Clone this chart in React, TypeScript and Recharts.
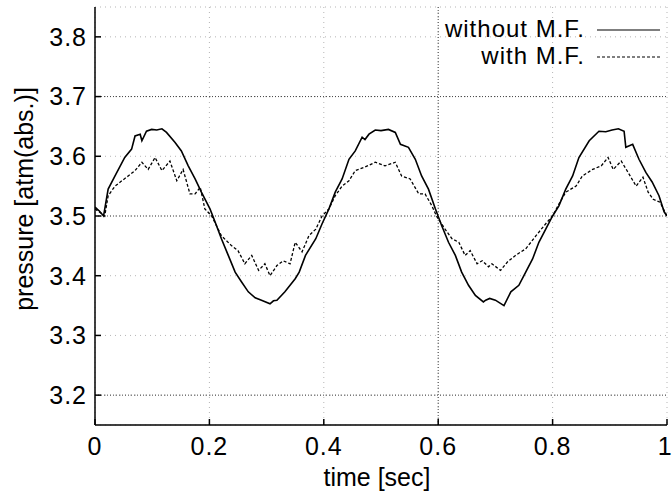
import {
  CartesianGrid,
  Legend,
  Line,
  LineChart,
  ReferenceLine,
  XAxis,
  YAxis,
} from "recharts";

// without M.F. (solid)
const solidTime = [
  0, 0.008, 0.015, 0.023, 0.035, 0.052, 0.064, 0.07, 0.079, 0.082, 0.09, 0.099,
  0.108, 0.117, 0.125, 0.14, 0.151, 0.163, 0.175, 0.186, 0.201, 0.21, 0.221,
  0.233, 0.245, 0.256, 0.268, 0.28, 0.291, 0.306, 0.312, 0.318, 0.332, 0.35,
  0.357, 0.368, 0.386, 0.397, 0.409, 0.42, 0.432, 0.444, 0.455, 0.467, 0.472,
  0.479, 0.49, 0.5, 0.513, 0.525, 0.534, 0.548, 0.56, 0.571, 0.583, 0.595,
  0.606, 0.618, 0.63, 0.641, 0.653, 0.665, 0.679, 0.683, 0.69, 0.7, 0.715,
  0.727, 0.741, 0.753, 0.765, 0.776, 0.788, 0.8, 0.811, 0.823, 0.835, 0.846,
  0.864, 0.881, 0.893, 0.904, 0.915, 0.925, 0.928, 0.94, 0.951, 0.963, 0.974,
  0.986, 0.995, 1,
];
const solidPressure = [
  3.515, 3.508, 3.5, 3.545, 3.567, 3.598, 3.612, 3.634, 3.637, 3.626, 3.642,
  3.645, 3.644, 3.646, 3.64, 3.623, 3.609, 3.584, 3.562, 3.54, 3.512, 3.49,
  3.462, 3.434, 3.406, 3.39, 3.373, 3.363, 3.359, 3.353, 3.358, 3.359, 3.373,
  3.395, 3.406, 3.434, 3.462, 3.487, 3.512, 3.54, 3.562, 3.595, 3.609, 3.632,
  3.628, 3.637, 3.644, 3.643, 3.645, 3.64, 3.62, 3.615, 3.595, 3.567, 3.545,
  3.512, 3.484, 3.456, 3.434, 3.406, 3.384, 3.367, 3.356, 3.359, 3.362, 3.359,
  3.35, 3.373, 3.384, 3.406, 3.428, 3.456, 3.478, 3.5, 3.517, 3.545, 3.567,
  3.598, 3.626, 3.642, 3.641, 3.644, 3.646, 3.642, 3.615, 3.62, 3.595, 3.573,
  3.557, 3.534, 3.507, 3.5,
];

// with M.F. (dashed)
const dashTime = [
  0, 0.01, 0.017, 0.023, 0.035, 0.047, 0.058, 0.07, 0.082, 0.093, 0.105, 0.117,
  0.131, 0.143, 0.154, 0.166, 0.175, 0.184, 0.192, 0.204, 0.221, 0.239, 0.25,
  0.262, 0.274, 0.286, 0.297, 0.306, 0.318, 0.329, 0.341, 0.35, 0.362, 0.374,
  0.386, 0.397, 0.409, 0.42, 0.432, 0.444, 0.455, 0.472, 0.49, 0.507, 0.525,
  0.536, 0.551, 0.566, 0.577, 0.589, 0.597, 0.612, 0.624, 0.636, 0.647, 0.656,
  0.668, 0.677, 0.688, 0.694, 0.709, 0.721, 0.735, 0.753, 0.771, 0.788, 0.8,
  0.811, 0.823, 0.841, 0.852, 0.87, 0.885, 0.897, 0.906, 0.92, 0.932, 0.946,
  0.958, 0.967, 0.976, 0.988, 0.996, 1,
];
const dashPressure = [
  3.512, 3.505, 3.5, 3.534, 3.55, 3.559, 3.567, 3.576, 3.59, 3.578, 3.598,
  3.576, 3.592, 3.559, 3.578, 3.537, 3.537, 3.548, 3.512, 3.5, 3.467, 3.45,
  3.442, 3.42, 3.434, 3.409, 3.42, 3.4, 3.417, 3.425, 3.42, 3.456, 3.44, 3.467,
  3.478, 3.5, 3.512, 3.534, 3.55, 3.559, 3.576, 3.582, 3.59, 3.584, 3.59,
  3.567, 3.562, 3.537, 3.537, 3.517, 3.5, 3.478, 3.462, 3.456, 3.434, 3.442,
  3.42, 3.425, 3.415, 3.42, 3.409, 3.423, 3.434, 3.445, 3.467, 3.487, 3.5,
  3.52, 3.54, 3.55, 3.567, 3.578, 3.584, 3.598, 3.578, 3.592, 3.573, 3.55,
  3.565, 3.54, 3.528, 3.523, 3.507, 3.5,
];

const xTicks = [0, 0.2, 0.4, 0.6, 0.8, 1];
const yTicks = [3.2, 3.3, 3.4, 3.5, 3.6, 3.7, 3.8];
const strongGridX = [0.6];
const strongGridY = [3.2, 3.5, 3.7];
const seriesNames = ["without M.F.", "with M.F."];

const withoutMF = solidTime.map((t, i) => ({ t, p: solidPressure[i] }));
const withMF = dashTime.map((t, i) => ({ t, p: dashPressure[i] }));

const font = "'Liberation Sans', Arial, Helvetica, sans-serif";
const tickStyle = { fontSize: 25, fill: "#000", fontFamily: font, letterSpacing: 1 };

function KeyBox() {
  const dashes = [undefined, "3 2"];
  return (
    <div style={{ fontFamily: font, fontSize: 24, lineHeight: "27px", letterSpacing: 1, color: "#000" }}>
      {seriesNames.map((name, i) => (
        <div key={name} style={{ display: "flex", justifyContent: "flex-end", alignItems: "flex-start", height: 27 }}>
          <span style={{ whiteSpace: "nowrap" }}>{name}</span>
          <svg width={63} height={27} style={{ marginLeft: 12, display: "block" }}>
            <line x1={0} x2={63} y1={15} y2={15} stroke="#000" strokeWidth={1.2} strokeDasharray={dashes[i]} />
          </svg>
        </div>
      ))}
    </div>
  );
}

export default function App() {
  return (
    <div style={{ position: "absolute", left: 0, top: 0, background: "#fff" }}>
      <LineChart width={672} height={497} margin={{ top: 7, right: 5, left: 0, bottom: 0 }}>
        <CartesianGrid stroke="#b5b5b5" strokeDasharray="1 4" />
        {strongGridY.map((v) => (
          <ReferenceLine key={"y" + v} y={v} stroke="#444" strokeDasharray="1 2" />
        ))}
        {strongGridX.map((v) => (
          <ReferenceLine key={"x" + v} x={v} stroke="#444" strokeDasharray="1 2" />
        ))}
        <XAxis
          dataKey="t"
          type="number"
          domain={[0, 1]}
          ticks={xTicks}
          allowDataOverflow
          height={72}
          stroke="#000"
          strokeWidth={1.5}
          tickSize={-6}
          tickMargin={18}
          tick={tickStyle}
          label={(props: any) => {
            const vb = props.viewBox || { x: 95, width: 572 };
            return (
              <text x={vb.x + vb.width / 2 - 4} y={486} textAnchor="middle" fontSize={25} fontFamily={font} fill="#000">
                time [sec]
              </text>
            );
          }}
        />
        <XAxis
          xAxisId="top"
          orientation="top"
          type="number"
          domain={[0, 1]}
          ticks={xTicks}
          height={0}
          stroke="#000"
          strokeWidth={1.5}
          tickSize={-6}
          tick={false}
        />
        <YAxis
          type="number"
          domain={[3.15, 3.85]}
          ticks={yTicks}
          allowDataOverflow
          width={95}
          stroke="#000"
          strokeWidth={1.5}
          tickSize={-6}
          tickMargin={14}
          tick={tickStyle}
          label={() => (
            <text x={33} y={199} transform="rotate(-90 33 199)" textAnchor="middle" fontSize={25} fontFamily={font} fill="#000">
              pressure [atm(abs.)]
            </text>
          )}
        />
        <YAxis
          yAxisId="right"
          orientation="right"
          type="number"
          domain={[3.15, 3.85]}
          ticks={yTicks}
          width={0}
          stroke="#000"
          strokeWidth={1.5}
          tickSize={-6}
          tick={false}
        />
        <Legend
          layout="vertical"
          align="center"
          verticalAlign="middle"
          content={() => <KeyBox />}
          wrapperStyle={{ top: 15, right: 12, left: "auto", bottom: "auto", width: "auto", height: "auto" }}
        />
        <Line
          data={withoutMF}
          dataKey="p"
          name={seriesNames[0]}
          type="linear"
          stroke="#000"
          strokeWidth={1.6}
          dot={false}
          isAnimationActive={false}
        />
        <Line
          data={withMF}
          dataKey="p"
          name={seriesNames[1]}
          type="linear"
          stroke="#000"
          strokeWidth={1.3}
          strokeDasharray="3 2"
          dot={false}
          isAnimationActive={false}
        />
      </LineChart>
    </div>
  );
}
